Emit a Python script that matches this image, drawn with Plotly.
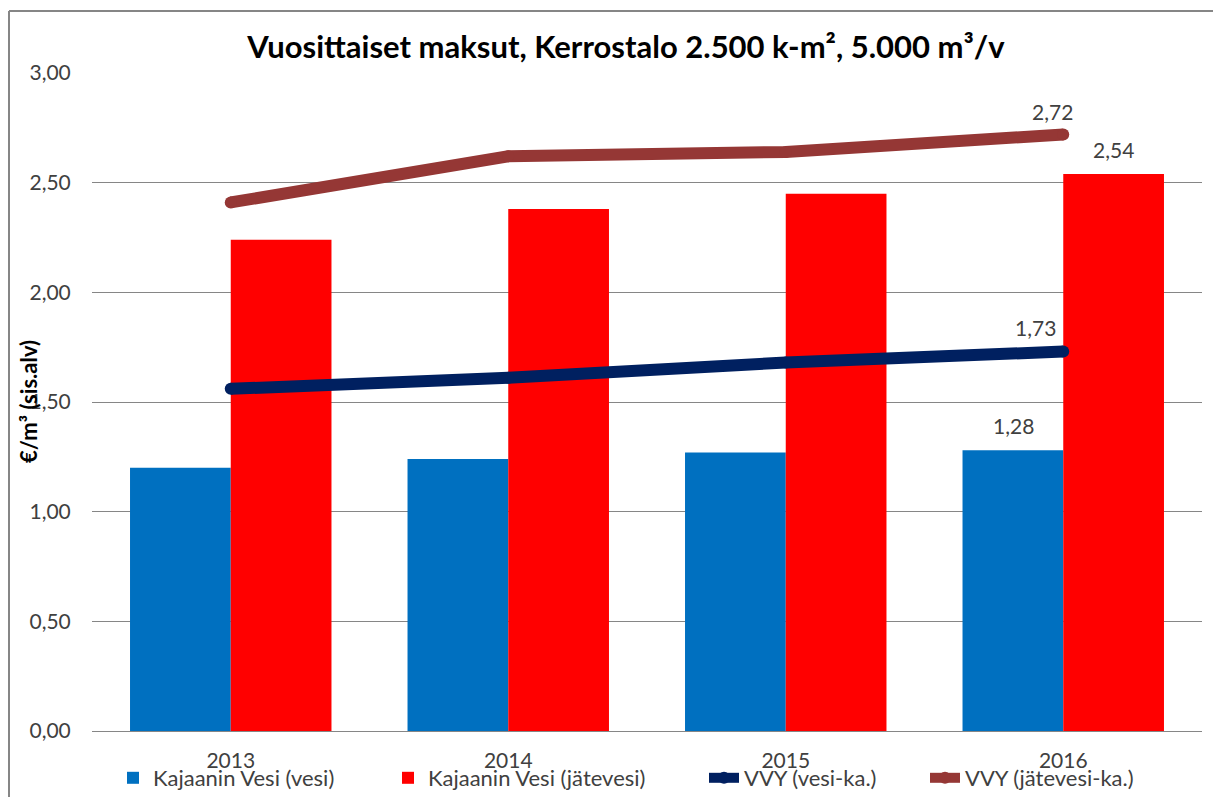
import plotly.graph_objects as go

years = ["2013", "2014", "2015", "2016"]
kv_vesi = [1.20, 1.24, 1.27, 1.28]
kv_jatevesi = [2.24, 2.38, 2.45, 2.54]
vvy_vesi = [1.56, 1.61, 1.68, 1.73]
vvy_jatevesi = [2.41, 2.62, 2.64, 2.72]

names = ["Kajaanin Vesi (vesi)", "Kajaanin Vesi (jätevesi)", "VVY (vesi-ka.)", "VVY (jätevesi-ka.)"]
colors = ["#0070C0", "#FF0000", "#002060", "#953735"]
title_text = "Vuosittaiset maksut, Kerrostalo 2.500 k-m², 5.000 m³/v"
ytitle = "€/m³ (sis.alv)"

# page body has an 8px margin: work in figure coordinates = screen - 8
OFF = 8
W, H = 1205, 789
L, R, T, B = 84, 11, 65, 66
pw, ph = W - L - R, H - T - B

FONT = "Lato, 'Open Sans', sans-serif"

xi = list(range(len(years)))
legend_ids = ["legend", "legend2", "legend3", "legend4"]

fig = go.Figure()
fig.add_trace(go.Bar(x=xi, y=kv_vesi, name=names[0], legend=legend_ids[0],
                     marker=dict(color=colors[0], line_width=0)))
fig.add_trace(go.Bar(x=xi, y=kv_jatevesi, name=names[1], legend=legend_ids[1],
                     marker=dict(color=colors[1], line_width=0)))
fig.add_trace(go.Scatter(x=xi, y=vvy_vesi, name=names[2], mode="lines+markers",
                         legend=legend_ids[2],
                         line=dict(color=colors[2], width=12),
                         marker=dict(color=colors[2], size=12)))
fig.add_trace(go.Scatter(x=xi, y=vvy_jatevesi, name=names[3], mode="lines+markers",
                         legend=legend_ids[3],
                         line=dict(color=colors[3], width=12),
                         marker=dict(color=colors[3], size=12)))

def fmt(v):
    return f"{v:.2f}".replace(".", ",")

label_font = dict(family=FONT, size=21, color="#404040")
anns = [
    dict(xshift=-50, yshift=25),
    dict(xshift=50, yshift=24),
    dict(xshift=-28, yshift=24),
    dict(xshift=-11, yshift=23),
]
vals = [kv_vesi[-1], kv_jatevesi[-1], vvy_vesi[-1], vvy_jatevesi[-1]]
for a, v in zip(anns, vals):
    fig.add_annotation(text=fmt(v), x=xi[-1], y=v, xref="x", yref="y", showarrow=False,
                       font=label_font, **a)

# y-axis title
fig.add_annotation(text="<b>" + ytitle + "</b>", xref="paper", yref="paper",
                   x=(28 - OFF - L) / pw, y=0.5, textangle=-90, showarrow=False,
                   xanchor="center", yanchor="middle",
                   font=dict(family=FONT, size=22, color="#000000"))

# chart border (top and left edges only are visible in the reference)
bx = (1 - L) / pw
by = (H - B - 3) / ph
fig.add_shape(type="line", xref="paper", yref="paper", x0=bx, x1=1.02, y0=by, y1=by,
              line=dict(color="#868686", width=2), layer="below")
fig.add_shape(type="line", xref="paper", yref="paper", x0=bx, x1=bx, y0=-0.2, y1=by,
              line=dict(color="#868686", width=2), layer="below")

legend_text_x = [155, 430, 746, 967]  # screen px where legend texts start
legend_y = -(778 - OFF - (H - B)) / ph
legends = {}
for lid, tx in zip(legend_ids, legend_text_x):
    legends[lid] = dict(orientation="h", x=(tx - 42 - OFF - L) / pw, xanchor="left",
                        y=legend_y, yanchor="middle",
                        font=dict(family=FONT, size=22, color="#404040"),
                        bgcolor="rgba(0,0,0,0)", itemwidth=30)

fig.update_layout(
    width=W, height=H,
    margin=dict(l=L, r=R, t=T, b=B, autoexpand=False),
    paper_bgcolor="white", plot_bgcolor="white",
    separators=",.",
    barmode="group", bargap=0.274, bargroupgap=0,
    title=dict(text="<b>" + title_text + "</b>", x=(626 - OFF) / W, xanchor="center",
               y=1 - (47 - OFF) / H, yanchor="middle",
               font=dict(family=FONT, size=31, color="#000000")),
    font=dict(family=FONT, color="#404040"),
    hovermode=False,
    showlegend=True,
    **legends,
)
fig.update_xaxes(range=[-0.5, len(years) - 0.5], tickvals=xi, ticktext=years,
                 showgrid=False, zeroline=False, showline=True, linecolor="#868686", linewidth=1,
                 ticks="outside", ticklen=11, tickcolor="rgba(0,0,0,0)",
                 tickfont=dict(family=FONT, size=21, color="#404040"))
fig.update_yaxes(range=[0, 3], dtick=0.5, tickformat=".2f", showgrid=True,
                 gridcolor="#868686", gridwidth=1, zeroline=False, showline=False,
                 ticks="outside", ticklen=16, tickcolor="rgba(0,0,0,0)",
                 tickfont=dict(family=FONT, size=21, color="#404040"))

fig.write_html("out.html")
